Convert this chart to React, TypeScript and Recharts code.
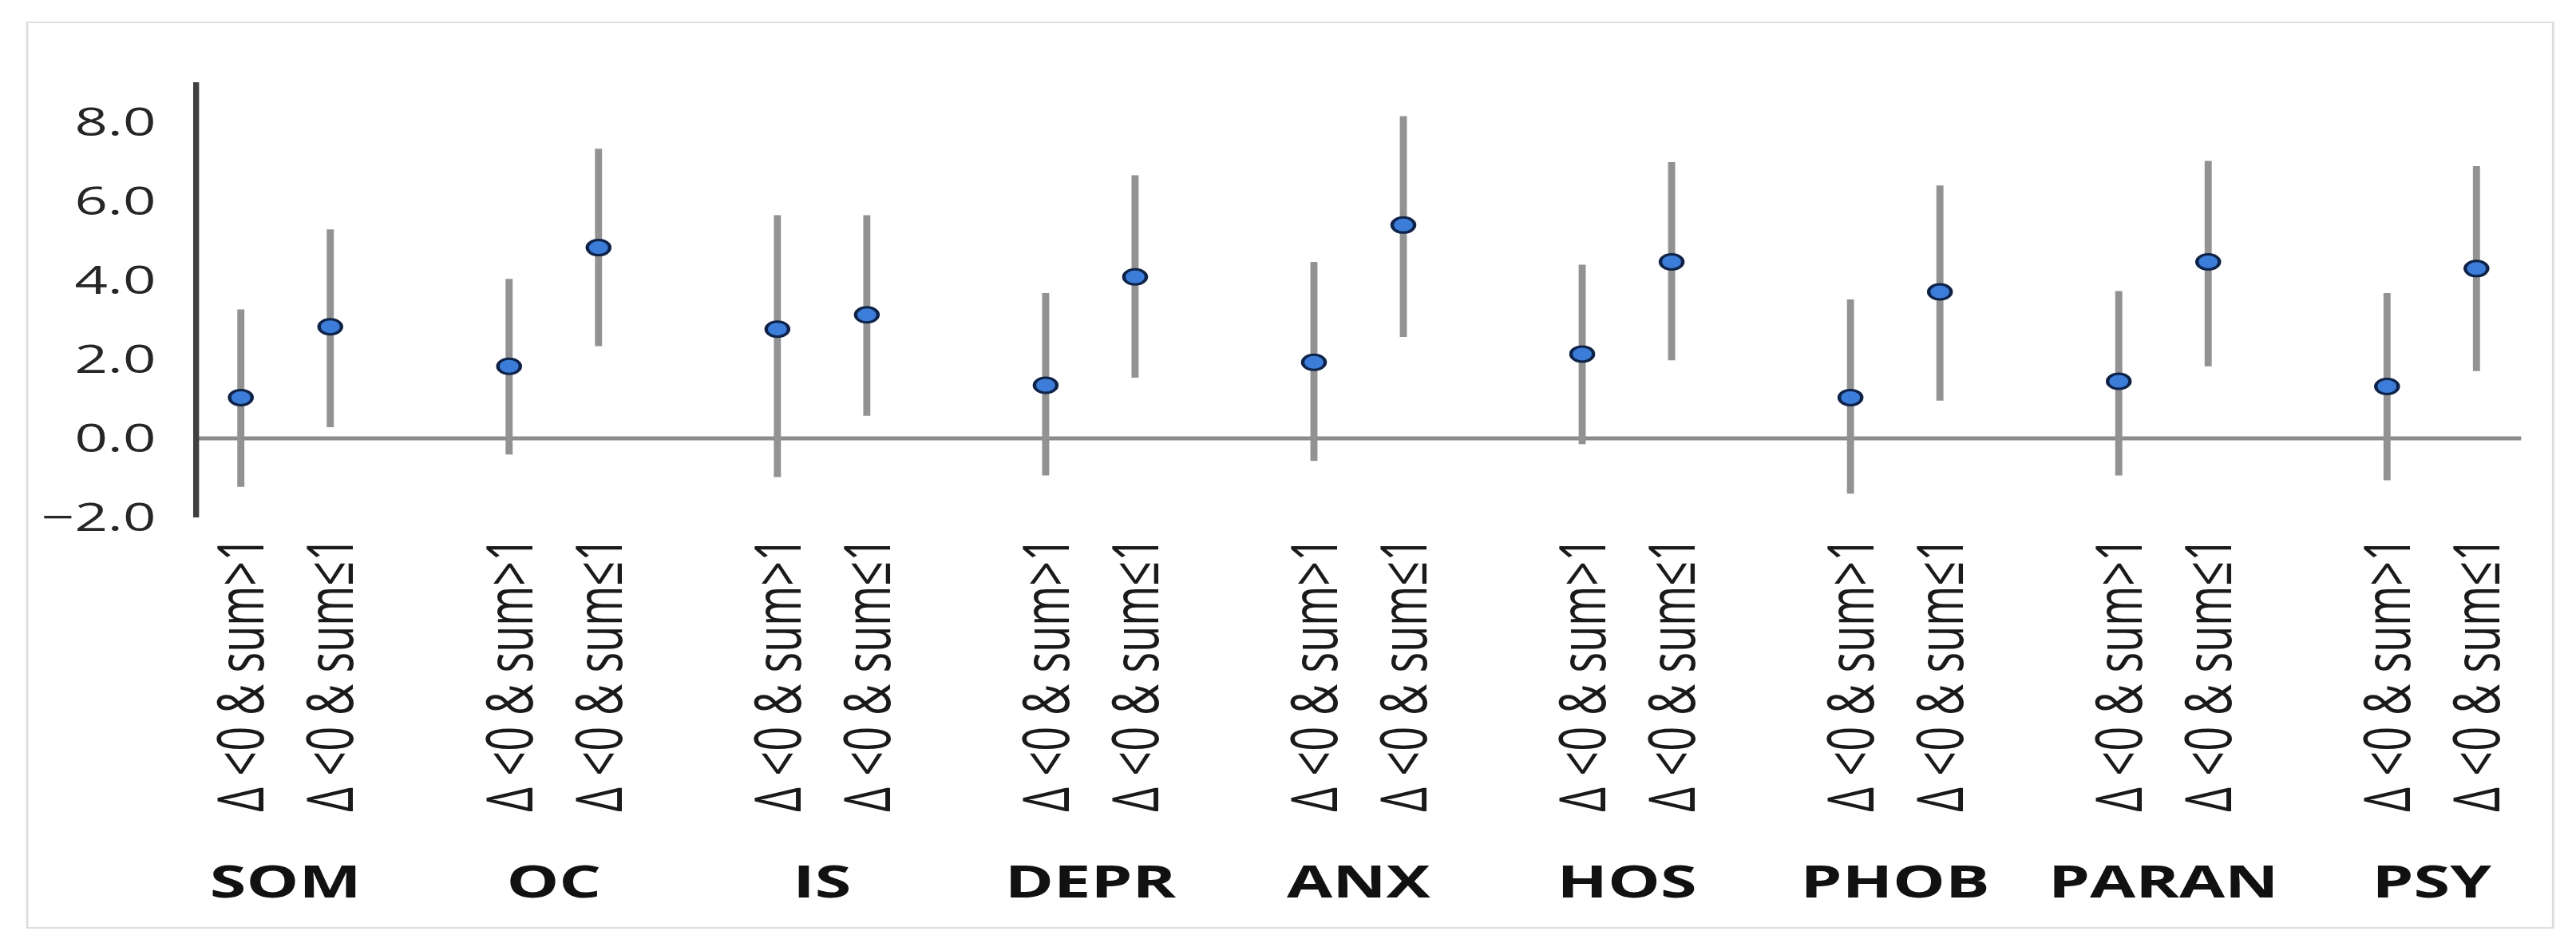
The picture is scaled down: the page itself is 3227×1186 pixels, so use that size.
import { ComposedChart, Scatter, ErrorBar, XAxis, YAxis, ReferenceLine } from 'recharts';

// the source figure is stretched horizontally, so the chart is drawn narrow and scaled in x
const STRETCH = 1.48;
const W = 2180;
const H = 1186;
const PLOT_LEFT = 166;
const PLOT_RIGHT = 2134;

const groups = ['SOM', 'OC', 'IS', 'DEPR', 'ANX', 'HOS', 'PHOB', 'PARAN', 'PSY'];
const subLabels = ['Δ <0 & sum>1', 'Δ <0 & sum≤1'];

// Δ <0 & sum>1
const meanGt1 = [1.03, 1.82, 2.76, 1.34, 1.92, 2.13, 1.03, 1.44, 1.31];
const lowGt1 = [-1.23, -0.41, -0.98, -0.94, -0.57, -0.15, -1.4, -0.94, -1.06];
const highGt1 = [3.26, 4.03, 5.64, 3.67, 4.46, 4.39, 3.51, 3.72, 3.67];

// Δ <0 & sum≤1
const meanLe1 = [2.82, 4.82, 3.12, 4.08, 5.39, 4.46, 3.7, 4.46, 4.29];
const lowLe1 = [0.28, 2.33, 0.57, 1.53, 2.56, 1.97, 0.95, 1.82, 1.7];
const highLe1 = [5.28, 7.32, 5.64, 6.65, 8.14, 6.98, 6.39, 7.01, 6.88];

const yTicks = [-2, 0, 2, 4, 6, 8];

interface Row {
  key: string;
  label: string;
  group: string;
  first: boolean;
  mean: number | null;
  err: [number, number] | null;
}

const rows: Row[] = [];
groups.forEach((g, i) => {
  if (i > 0) rows.push({ key: `gap${i}`, label: '', group: '', first: false, mean: null, err: null });
  rows.push({
    key: `${g}-gt1`,
    label: subLabels[0],
    group: g,
    first: true,
    mean: meanGt1[i],
    err: [meanGt1[i] - lowGt1[i], highGt1[i] - meanGt1[i]],
  });
  rows.push({
    key: `${g}-le1`,
    label: subLabels[1],
    group: g,
    first: false,
    mean: meanLe1[i],
    err: [meanLe1[i] - lowLe1[i], highLe1[i] - meanLe1[i]],
  });
});

const rowByKey: Record<string, Row> = {};
rows.forEach((r) => { rowByKey[r.key] = r; });

const FONT = '"Open Sans", "DejaVu Sans", sans-serif';
const STEP = (PLOT_RIGHT - PLOT_LEFT) / rows.length;

function CategoryTick(props: any) {
  const { x, y, payload } = props;
  const row = rowByKey[payload?.value];
  if (!row || !row.label) return <g />;
  const ty = y + 24;
  return (
    <g>
      <text
        x={x}
        y={ty}
        dy="0.36em"
        transform={`rotate(-90, ${x}, ${ty})`}
        textAnchor="end"
        fontSize={54}
        fontFamily={FONT}
        fill="#1a1a1a"
      >
        {row.label}
      </text>
      {row.first && (
        <text
          x={x + STEP / 2}
          y={y + 476}
          textAnchor="middle"
          fontSize={56}
          fontWeight={700}
          fontFamily={FONT}
          fill="#111"
        >
          {row.group}
        </text>
      )}
    </g>
  );
}

function Dot(props: any) {
  const { cx, cy, payload } = props;
  if (payload?.mean == null || cx == null || cy == null) return <g />;
  return <circle cx={cx} cy={cy} r={9.5} fill="#3b7dd8" stroke="#0f2247" strokeWidth={3} />;
}

export default function App() {
  return (
    <div
      style={{
        position: 'absolute',
        left: 0,
        top: 0,
        width: W,
        height: H,
        background: '#fff',
        transform: `scaleX(${STRETCH})`,
        transformOrigin: '0 0',
      }}
    >
      <div
        style={{
          position: 'absolute',
          left: 22,
          top: 27,
          width: 2140,
          height: 1136,
          border: '2px solid #dedede',
          boxSizing: 'border-box',
        }}
      />
      <div style={{ position: 'absolute', left: 0, top: 0 }}>
        <ComposedChart
          width={W}
          height={H}
          data={rows}
          margin={{ top: 103, right: W - PLOT_RIGHT, bottom: 58, left: PLOT_LEFT - 120 }}
        >
          <XAxis
            dataKey="key"
            type="category"
            scale="band"
            interval={0}
            height={480}
            axisLine={false}
            tickLine={false}
            tickSize={0}
            tickMargin={0}
            tick={(p: any) => <CategoryTick {...p} />}
          />
          <YAxis
            type="number"
            domain={[-2, 9]}
            ticks={yTicks}
            allowDataOverflow
            width={120}
            axisLine={{ stroke: '#404040', strokeWidth: 5 }}
            tickLine={false}
            tickSize={0}
            tickMargin={34}
            tick={{ fontSize: 49, fill: '#262626', fontFamily: FONT }}
            tickFormatter={(v: number) => (v < 0 ? `−${Math.abs(v).toFixed(1)}` : v.toFixed(1))}
          />
          <ReferenceLine y={0} stroke="#8c8c8c" strokeWidth={5} />
          <Scatter dataKey="mean" isAnimationActive={false} shape={(p: any) => <Dot {...p} />}>
            <ErrorBar dataKey="err" direction="y" width={0} stroke="#929292" strokeWidth={6} />
          </Scatter>
        </ComposedChart>
      </div>
    </div>
  );
}
